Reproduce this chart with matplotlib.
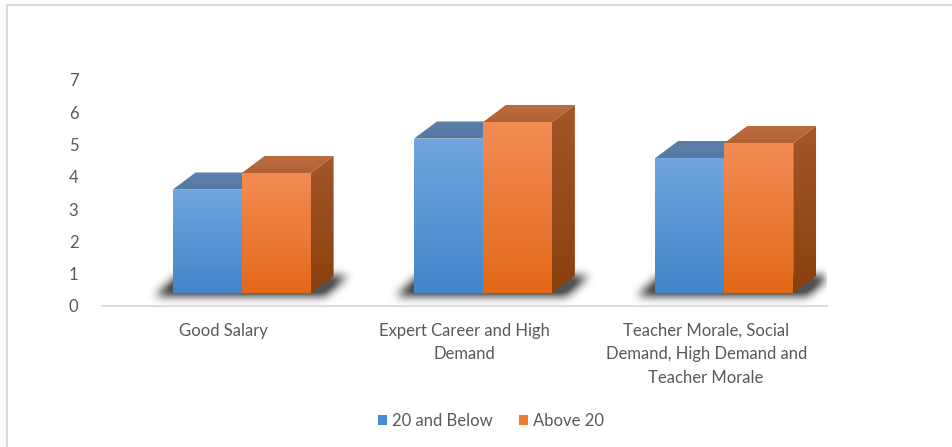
import numpy as np
import matplotlib
matplotlib.use("Agg")
from matplotlib import pyplot as plt
from matplotlib.patches import Polygon, Patch
from matplotlib.lines import Line2D
from matplotlib.path import Path

# chart data
categories = ["Good Salary",
              "Expert Career and High\nDemand",
              "Teacher Morale, Social\nDemand, High Demand and\nTeacher Morale"]
series_names = ["20 and Below", "Above 20"]
below_20 = [3.45, 5.15, 4.5]
above_20 = [4.0, 5.7, 5.0]
y_ticks = [0, 1, 2, 3, 4, 5, 6, 7]

plt.rcParams['font.family'] = ['Lato', 'DejaVu Sans']
text_grey = '#595959'

W, H = 953, 447
fig = plt.figure(figsize=(W / 100, H / 100), dpi=100)
ax = fig.add_axes([102 / W, 1 - 306 / H, 725 / W, 7.2 * 32.29 / H])
xlim = (-0.579, 2.426)
ylim = (0, 7.2)

# fake 3d geometry (data units)
bar_w = 0.286     # width of one front face
dx, dy = 0.095, 0.53   # depth offset of the back edges
lift = 0.40       # front floor sits a little above the axis line
hscale = 0.929    # front face height per value unit

blue_front = ((0.44, 0.65, 0.87), (0.26, 0.52, 0.79))
blue_top = ((0.36, 0.50, 0.66), (0.33, 0.48, 0.64))
orange_front = ((0.95, 0.55, 0.33), (0.89, 0.41, 0.10))
orange_top = ((0.73, 0.42, 0.25), (0.70, 0.39, 0.21))
orange_side = ((0.64, 0.34, 0.16), (0.54, 0.25, 0.05))


def gradient_poly(verts, c_top, c_bot, z):
    poly = Polygon(verts, closed=True, facecolor='none', edgecolor='none', zorder=z)
    ax.add_patch(poly)
    xs = [v[0] for v in verts]
    ys = [v[1] for v in verts]
    t = np.linspace(0, 1, 200)[:, None, None]
    img = np.array(c_top)[None, None, :] * (1 - t) + np.array(c_bot)[None, None, :] * t
    im = ax.imshow(img, extent=(min(xs), max(xs), min(ys), max(ys)), origin='upper',
                   aspect='auto', interpolation='bilinear', zorder=z)
    im.set_clip_path(poly)


def draw_box(x0, value, front, top, side, z):
    h = lift + value * hscale
    x1 = x0 + bar_w
    # right side face
    gradient_poly([(x1, lift), (x1 + dx, lift + dy), (x1 + dx, h + dy), (x1, h)],
                  side[0], side[1], z)
    # top face
    gradient_poly([(x0, h), (x1, h), (x1 + dx, h + dy), (x0 + dx, h + dy)],
                  top[0], top[1], z + 0.1)
    # front face
    gradient_poly([(x0, lift), (x1, lift), (x1, h), (x0, h)], front[0], front[1], z + 0.2)


# soft floor shadows under each pair of bars
nx, ny = 725, int(round(7.2 * 32.29))
px_x = (xlim[1] - xlim[0]) / nx
px_y = (ylim[1] - ylim[0]) / ny
gx = xlim[0] + (np.arange(nx) + 0.5) * px_x
gy = ylim[1] - (np.arange(ny) + 0.5) * px_y
GX, GY = np.meshgrid(gx, gy)
pts = np.column_stack([GX.ravel(), GY.ravel()])
mask = np.zeros(nx * ny)
for i in range(len(categories)):
    left = i - bar_w - 18 * px_x
    right = i + bar_w + 14 * px_x
    bottom = lift - 3 * px_y
    shadow = Path([(left, bottom), (right, bottom), (right + dx, lift + dy),
                   (left + dx, lift + dy), (left, bottom)])
    mask = np.maximum(mask, shadow.contains_points(pts).astype(float))
mask = mask.reshape(ny, nx)
kernel = np.ones(9) / 9
for _ in range(3):
    mask = np.apply_along_axis(lambda r: np.convolve(r, kernel, mode='same'), 1, mask)
    mask = np.apply_along_axis(lambda c: np.convolve(c, kernel, mode='same'), 0, mask)
shade = np.zeros((ny, nx, 4))
shade[..., :3] = 0.2
shade[..., 3] = np.clip(mask * 1.1, 0, 0.85)
ax.imshow(shade, extent=(xlim[0], xlim[1], ylim[0], ylim[1]), origin='upper',
          aspect='auto', interpolation='bilinear', zorder=1)

for i in range(len(categories)):
    draw_box(i - bar_w, below_20[i], blue_front, blue_top, blue_front, 2)
    draw_box(i, above_20[i], orange_front, orange_top, orange_side, 3)

ax.set_xlim(*xlim)
ax.set_ylim(*ylim)
ax.set_yticks(y_ticks)
ax.set_xticks([i - 0.075 for i in range(len(categories))])
ax.set_xticklabels(categories, linespacing=1.6)
ax.tick_params(axis='y', length=0, pad=17, labelsize=12, labelcolor=text_grey)
ax.tick_params(axis='x', length=0, pad=12, labelsize=12, labelcolor=text_grey)
for s in ['left', 'right', 'top']:
    ax.spines[s].set_visible(False)
ax.spines['bottom'].set_color('#d9d9d9')
ax.spines['bottom'].set_linewidth(1.3)

handles = [Patch(facecolor='#4a8ad0', edgecolor='none'),
           Patch(facecolor='#ef7b2c', edgecolor='none')]
fig.legend(handles, series_names, loc='center', bbox_to_anchor=(491 / W, 1 - 421 / H),
           ncol=2, frameon=False, fontsize=12, labelcolor=text_grey,
           handlelength=0.55, handleheight=0.55, handletextpad=0.3, columnspacing=1.6)

# chart frame
fig.add_artist(Line2D([7 / W, 7 / W], [0, 1 - 5 / H], transform=fig.transFigure,
                      color='#d9d9d9', lw=1.5))
fig.add_artist(Line2D([7 / W, 1], [1 - 5 / H, 1 - 5 / H], transform=fig.transFigure,
                      color='#d9d9d9', lw=1.5))

fig.savefig('out.png', dpi=100, facecolor='white')
